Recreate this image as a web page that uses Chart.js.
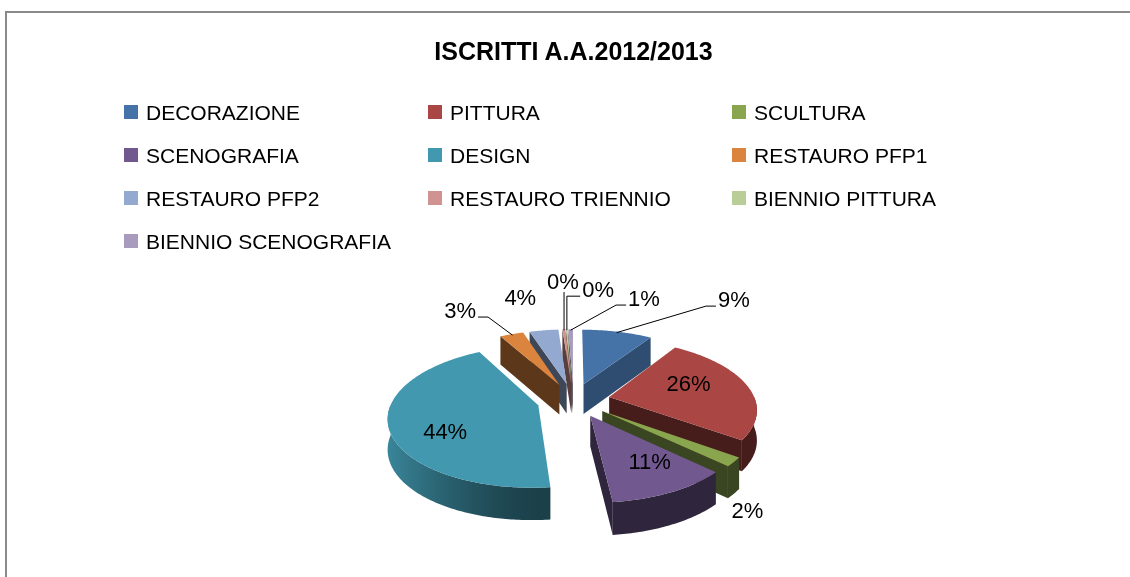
<!DOCTYPE html>
<html><head><meta charset="utf-8">
<script src="https://cdn.jsdelivr.net/npm/chart.js@4.4.1/dist/chart.umd.min.js"></script>
<style>
html,body{margin:0;padding:0;background:#fff;}
body{width:1130px;height:577px;overflow:hidden;position:relative;font-family:"Liberation Sans",Arial,sans-serif;color:#000;}
#frame{position:absolute;left:5px;top:11px;width:1300px;height:800px;border:2px solid #8a8a8a;}
#title{position:absolute;left:0;width:1147px;top:39px;text-align:center;font-weight:bold;font-size:25px;line-height:25px;white-space:nowrap;}
.lg{position:absolute;font-size:21px;line-height:21px;white-space:nowrap;}
.lg i{position:absolute;left:-22px;top:3px;width:14px;height:14px;}
canvas{position:absolute;left:0;top:0;}
</style></head><body>
<div id="frame"></div>
<canvas id="c" width="1130" height="577"></canvas>
<div id="title">ISCRITTI A.A.2012/2013</div>
<div id="legend"></div>
<script>
// ---- data ----
const categories = ['DECORAZIONE','PITTURA','SCULTURA','SCENOGRAFIA','DESIGN','RESTAURO PFP1','RESTAURO PFP2','RESTAURO TRIENNIO','BIENNIO PITTURA','BIENNIO SCENOGRAFIA'];
const values = [9.2, 25.8, 2.1, 11.2, 43.6, 3.1, 3.8, 0.4, 0.2, 0.6];

// ---- style ----
const colors = ['#4572A7','#AA4643','#89A54E','#71588F','#4198AF','#DB843D','#93A9CF','#D19392','#B9CD96','#A99BBD'];
// label placement: angle shift (deg, from slice mid-angle) and radius factor
const labelLayout = [
  {a: 20.4, r: 2.37, leader: true},
  {a: -7.6, r: 0.60, inside: true},
  {a: 14.5, r: 1.62},
  {a: -4.2, r: 0.68, inside: true},
  {a: -15.4, r: 0.69, inside: true},
  {a: -7.3, r: 1.90, leader: true},
  {a: -2.6, r: 2.00},
  {a: 1.2, r: 2.37, leader: true},
  {a: 8.5, r: 2.16, leader: true},
  {a: 19.2, r: 2.02, leader: true}
];
// 3D view parameters
const TILT = 0.464, PERSP = 0.157, DEPTH = 30, DEPTH_PERSP = 0.4, EXPLODE = 0.25, ANCHOR = 0.98;

// ---- legend (HTML) ----
const legendCols = [146, 450, 754], legendRowY = 112, legendRowGap = 43;
const lgEl = document.getElementById('legend');
categories.forEach((c, i) => {
  const d = document.createElement('div');
  d.className = 'lg';
  d.style.left = legendCols[i % 3] + 'px';
  d.style.top = (legendRowY + Math.floor(i / 3) * legendRowGap - 10) + 'px';
  d.innerHTML = '<i style="background:' + colors[i] + '"></i>' + c;
  lgEl.appendChild(d);
});

function shade(hex, f) {
  const n = parseInt(hex.slice(1), 16);
  const r = (n >> 16) & 255, g = (n >> 8) & 255, b = n & 255;
  return 'rgb(' + Math.round(r * f) + ',' + Math.round(g * f) + ',' + Math.round(b * f) + ')';
}

const pie3d = {
  id: 'pie3d',
  beforeDatasetsDraw(chart) {
    const ctx = chart.ctx;
    const arcs = chart.getDatasetMeta(0).data;
    const items = arcs.map((a, i) => {
      const p = a.getProps(['x', 'y', 'startAngle', 'endAngle', 'outerRadius']);
      const mid = (p.startAngle + p.endAngle) / 2;
      const E = p.outerRadius * EXPLODE;
      return {a, i, p, mid, ex: Math.cos(mid) * E, ey: Math.sin(mid) * E};
    });
    const cx = items[0].p.x, cy = items[0].p.y, R = items[0].p.outerRadius;
    // project plane point (u, v) relative to the pie centre, h = drop below the top face
    const proj = (u, v, h) => {
      const s = 1 / (1 - PERSP * v / R);
      return [cx + u * s, cy + v * TILT * s + h * (1 + (s - 1) * DEPTH_PERSP)];
    };
    const poly = (pts, fill) => {
      ctx.beginPath();
      ctx.moveTo(pts[0][0], pts[0][1]);
      for (let j = 1; j < pts.length; j++) ctx.lineTo(pts[j][0], pts[j][1]);
      ctx.closePath();
      ctx.fillStyle = fill;
      ctx.fill();
    };
    const rim = (it, t, h) => proj(it.ex + Math.cos(t) * it.p.outerRadius, it.ey + Math.sin(t) * it.p.outerRadius, h);
    const rimPts = (it, a, b, h) => {
      const n = Math.max(2, Math.ceil(Math.abs(b - a) / 0.015));
      const pts = [];
      for (let j = 0; j <= n; j++) pts.push(rim(it, a + (b - a) * j / n, h));
      return pts;
    };
    const key = u => u.ey + Math.sin(u.mid) * u.p.outerRadius * 0.5;
    const order = items.slice().sort((u, v) => key(u) - key(v));
    ctx.save();
    for (const it of order) {
      const base = colors[it.i];
      const s = it.p.startAngle, e = it.p.endAngle;
      const apexT = proj(it.ex, it.ey, 0), apexB = proj(it.ex, it.ey, DEPTH);
      // outer (curved) wall, front half only
      const a1 = Math.max(s, 0), a2 = Math.min(e, Math.PI);
      if (a2 > a1) {
        const top = rimPts(it, a1, a2, 0), bot = rimPts(it, a2, a1, DEPTH);
        const x0 = apexT[0] - R * 1.1, x1 = apexT[0] + R * 1.1;
        const g = ctx.createLinearGradient(x0, 0, x1, 0);
        for (let t = 0; t <= 10; t++) {
          const c = -1 + t / 5;
          g.addColorStop(t / 10, shade(base, 0.42 + 0.5 * Math.pow(Math.max(0, -c), 1.5)));
        }
        poly(top.concat(bot), g);
      }
      // radial walls facing the viewer
      const wall = (ang, nx) => {
        poly([apexT, rim(it, ang, 0), rim(it, ang, DEPTH), apexB], shade(base, 0.42 + 0.3 * Math.max(0, nx)));
      };
      if (Math.cos(s) < 0) wall(s, Math.sin(s));
      if (Math.cos(e) > 0) wall(e, -Math.sin(e));
      // top face
      poly([apexT].concat(rimPts(it, s, e, 0)), base);
    }
    ctx.restore();

    // data labels
    const total = values.reduce((x, y) => x + y, 0);
    ctx.save();
    ctx.font = '22px "Liberation Sans", Arial, sans-serif';
    ctx.fillStyle = '#000';
    ctx.strokeStyle = '#000';
    ctx.lineWidth = 1;
    ctx.textAlign = 'center';
    ctx.textBaseline = 'middle';
    for (const it of items) {
      const L = labelLayout[it.i];
      const txt = Math.round(values[it.i] / total * 100) + '%';
      const ang = it.mid + L.a * Math.PI / 180;
      let ou = 0, ov = 0;
      if (L.inside) { ou = it.ex; ov = it.ey; }
      const [lx, ly] = proj(ou + Math.cos(ang) * L.r * R, ov + Math.sin(ang) * L.r * R, 0);
      if (L.leader) {
        const w = ctx.measureText(txt).width;
        const [ax, ay] = proj(it.ex + Math.cos(it.mid) * ANCHOR * R, it.ey + Math.sin(it.mid) * ANCHOR * R, 0);
        const dx = lx - ax, dy = ly - ay;
        ctx.beginPath();
        ctx.moveTo(ax, ay);
        if (Math.abs(dx) < w / 2) {
          ctx.lineTo(ax, ly + 9);
        } else {
          const side = dx > 0 ? -1 : 1;
          const endX = lx + side * (w / 2 + 2), endY = ly + 5;
          if (Math.abs(dy) > Math.abs(dx)) { ctx.lineTo(ax, endY); ctx.lineTo(endX, endY); }
          else { ctx.lineTo(endX + side * 10, endY); ctx.lineTo(endX, endY); }
        }
        ctx.stroke();
      }
      ctx.fillText(txt, lx, ly);
    }
    ctx.restore();
    return false;
  }
};

new Chart(document.getElementById('c'), {
  type: 'pie',
  data: {
    labels: categories,
    datasets: [{data: values, backgroundColor: colors, borderWidth: 0}]
  },
  options: {
    responsive: false,
    animation: false,
    radius: 146,
    layout: {padding: {top: 223, left: 17, right: 0, bottom: 0}},
    plugins: {legend: {display: false}, title: {display: false}, tooltip: {enabled: false}}
  },
  plugins: [pie3d]
});
</script>
</body></html>
